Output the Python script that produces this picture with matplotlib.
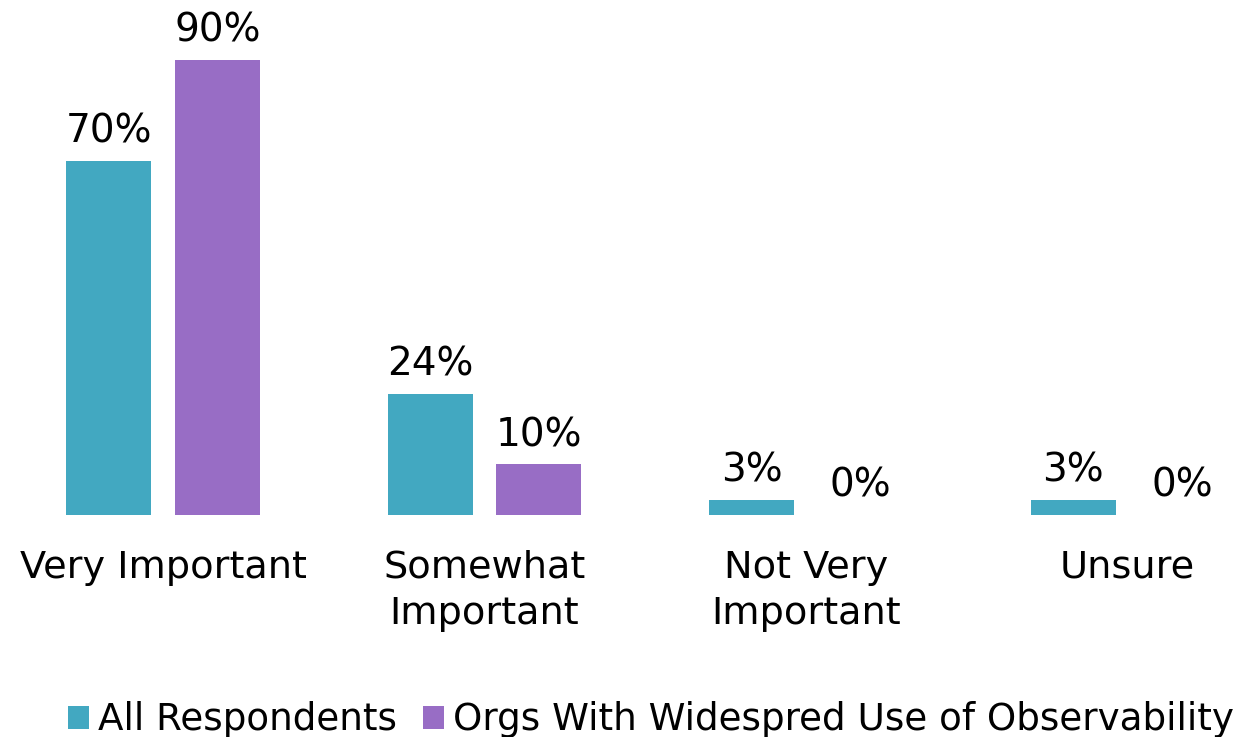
import matplotlib.pyplot as plt
import numpy as np

categories = ["Very Important", "Somewhat\nImportant", "Not Very\nImportant", "Unsure"]
all_resp = [70, 24, 3, 3]
orgs_obs = [90, 10, 0, 0]
series_names = ["All Respondents", "Orgs With Widespred Use of Observability"]

teal = "#42A8C1"
purple = "#986DC5"

fig = plt.figure(figsize=(12.53, 7.37), dpi=100)
ax = fig.add_axes([0, 0.3012, 1, 0.686])

x = np.arange(len(categories))
w = 0.264
off = 0.169
b1 = ax.bar(x - off, all_resp, w, color=teal, label=series_names[0])
b2 = ax.bar(x + off, orgs_obs, w, color=purple, label=series_names[1])

for bars, vals in [(b1, all_resp), (b2, orgs_obs)]:
    for r, v in zip(bars, vals):
        ax.annotate(f"{v}%", (r.get_x() + r.get_width() / 2, v),
                    xytext=(0, 7.5), textcoords="offset points",
                    ha="center", va="bottom", fontsize=28)

ax.set_xlim(-0.507, 3.390)
ax.set_ylim(0, 100)
ax.set_xticks(x)
ax.set_xticklabels(categories, fontsize=27.5, linespacing=1.37)
ax.tick_params(axis="x", length=0, pad=25)
ax.set_yticks([])
for s in ax.spines.values():
    s.set_visible(False)

fig.legend(loc="center", bbox_to_anchor=(651 / 1253, 1 - 720 / 737),
           ncol=2, frameon=False, fontsize=26.8,
           handlelength=0.55, handleheight=0.55, handletextpad=0.25,
           columnspacing=0.7, borderpad=0)

fig.savefig("out.png", dpi=100)
